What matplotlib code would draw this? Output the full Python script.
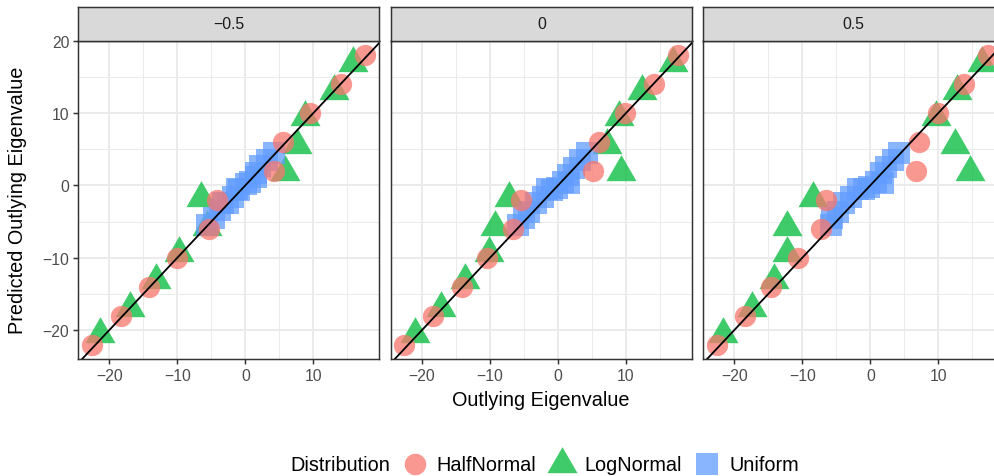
import numpy as np
import matplotlib
matplotlib.use("Agg")
import matplotlib.pyplot as plt
from matplotlib.lines import Line2D
from matplotlib.path import Path
from matplotlib.ticker import MultipleLocator

plt.rcParams['font.family'] = ['Liberation Sans', 'DejaVu Sans']

panel_labels = ['\u22120.5', '0', '0.5']

# HalfNormal (circles): same predicted values in every panel
half_y = [18, 14, 10, 6, 2, -2, -6, -10, -14, -18, -22]
half_x_neg = [17.6, 14.0, 9.5, 5.6, 4.2, -4.2, -5.4, -10.0, -14.2, -18.3, -22.5]
half_x_zero = [17.6, 14.1, 9.9, 6.0, 5.2, -5.4, -6.6, -10.4, -14.1, -18.4, -22.6]
half_x_pos = [17.3, 13.8, 9.9, 7.1, 6.7, -6.5, -7.3, -10.7, -14.6, -18.4, -22.5]

# LogNormal (triangles)
log_y = [16.9, 13.1, 9.4, 5.6, 1.8, -1.8, -5.7, -9.4, -13.1, -16.9, -20.6]
log_x_neg = [15.9, 13.0, 8.8, 7.6, 5.9, -6.5, -5.6, -9.8, -13.2, -16.9, -21.3]
log_x_zero = [16.9, 12.4, 8.9, 7.2, 9.2, -7.2, -9.2, -10.2, -13.7, -17.2, -21.0]
log_x_pos = [16.4, 12.7, 9.7, 12.4, 14.7, -8.4, -12.3, -12.2, -14.1, -17.4, -21.6]

# Uniform (squares)
unif_x_neg = [4.27, 3.19, 2.21, 1.53, 1.57, 0.74, 0.10, -0.88, -1.27, -1.76, -2.5, -3.32, -3.72, -4.6, -5.63]
unif_y_neg = [4.53, 3.56, 2.63, 1.70, 1.11, 0.51, 0.18, -0.69, -0.55, -1.62, -2.49, -2.49, -3.46, -4.47, -5.5]
unif_x_zero = [4.26, 3.28, 2.30, 1.41, 1.56, 0.7, -0.1, -0.9, -1.62, -2.26, -3.24, -4.22, -5.05, -5.94]
unif_y_zero = [4.53, 3.51, 2.35, 1.43, 0.28, 0.5, -0.3, -0.6, -0.55, -1.57, -2.49, -3.65, -4.57, -5.5]
unif_x_pos = [4.26, 3.28, 2.30, 1.57, 1.81, 0.8, -0.2, -1.0, -1.87, -2.85, -3.82, -4.8, -5.64, -5.78]
unif_y_pos = [4.53, 3.50, 2.59, 1.66, 0.28, 0.4, -0.2, -0.5, -0.55, -1.57, -2.49, -3.65, -4.57, -5.5]

half_x = [half_x_neg, half_x_zero, half_x_pos]
log_x = [log_x_neg, log_x_zero, log_x_pos]
unif_x = [unif_x_neg, unif_x_zero, unif_x_pos]
unif_y = [unif_y_neg, unif_y_zero, unif_y_pos]

red = '#F8766D'
green = '#00BA38'
blue = '#619CFF'
alpha = 0.75

# ggplot-style triangle (centroid at the point)
tri = Path([(0, 1), (0.866, -0.5), (-0.866, -0.5), (0, 1)],
           [Path.MOVETO, Path.LINETO, Path.LINETO, Path.CLOSEPOLY])

W, H = 995, 477
fig = plt.figure(figsize=(W / 100, H / 100), dpi=100)

left_px = [78.3, 391.0, 703.3]
pw = 301.0
top_px, bot_px = 41.7, 360.0
strip_top = 7.5

for i in range(3):
    ax = fig.add_axes([left_px[i] / W, 1 - bot_px / H, pw / W, (bot_px - top_px) / H])
    ax.set_xlim(-24.56, 19.70)
    ax.set_ylim(-24, 20)
    ax.xaxis.set_major_locator(MultipleLocator(10))
    ax.yaxis.set_major_locator(MultipleLocator(10))
    ax.xaxis.set_minor_locator(MultipleLocator(5))
    ax.yaxis.set_minor_locator(MultipleLocator(5))
    ax.grid(True, which='major', color='#EBEBEB', lw=1.4)
    ax.grid(True, which='minor', color='#EBEBEB', lw=0.7)
    ax.set_axisbelow(True)
    ax.tick_params(which='minor', length=0)
    ax.tick_params(which='major', length=3.6, width=1.07, color='#333333',
                   labelcolor='#4D4D4D', labelsize=11.3, pad=2.8)
    for s in ax.spines.values():
        s.set_color('#333333')
        s.set_linewidth(1.07)
    if i > 0:
        ax.tick_params(axis='y', left=False, labelleft=False)

    ax.scatter(log_x[i], log_y, s=623, marker=tri, color=green, alpha=alpha, linewidths=0, zorder=2)
    ax.scatter(unif_x[i], unif_y[i], s=245, marker='s', color=blue, alpha=alpha, linewidths=0, zorder=3)
    ax.scatter(half_x[i], half_y, s=235, marker='o', color=red, alpha=alpha, linewidths=0, zorder=4)
    ax.axline((0, 0), slope=1, color='black', lw=1.3, zorder=5)

    sax = fig.add_axes([left_px[i] / W, 1 - top_px / H, pw / W, (top_px - strip_top) / H])
    sax.set_facecolor('#D9D9D9')
    sax.set_xticks([])
    sax.set_yticks([])
    for s in sax.spines.values():
        s.set_color('#333333')
        s.set_linewidth(1.07)
    sax.text(0.5, 0.5, panel_labels[i], ha='center', va='center', fontsize=11.3,
             color='#1A1A1A', transform=sax.transAxes)

fig.text(541 / W, 1 - 401 / H, 'Outlying Eigenvalue', ha='center', va='center', fontsize=14.3)
fig.text(18 / W, 1 - 200.5 / H, 'Predicted Outlying Eigenvalue', ha='center', va='center',
         rotation=90, fontsize=14.3)

fig.text(290 / W, 1 - 466 / H, 'Distribution', ha='left', va='center', fontsize=14.3)
handles = [
    Line2D([], [], ls='none', marker='o', markersize=15.5, color=red, alpha=alpha, markeredgewidth=0),
    Line2D([], [], ls='none', marker=tri, markersize=25, color=green, alpha=alpha, markeredgewidth=0),
    Line2D([], [], ls='none', marker='s', markersize=15.8, color=blue, alpha=alpha, markeredgewidth=0),
]
fig.legend(handles, ['HalfNormal', 'LogNormal', 'Uniform'], loc='center left',
           bbox_to_anchor=(403 / W, 1 - 466 / H), ncol=3, frameon=False, fontsize=14.3,
           handlelength=1.2, handletextpad=0.5, columnspacing=0.7, borderpad=0,
           borderaxespad=0)

fig.savefig('out.png', dpi=100)
